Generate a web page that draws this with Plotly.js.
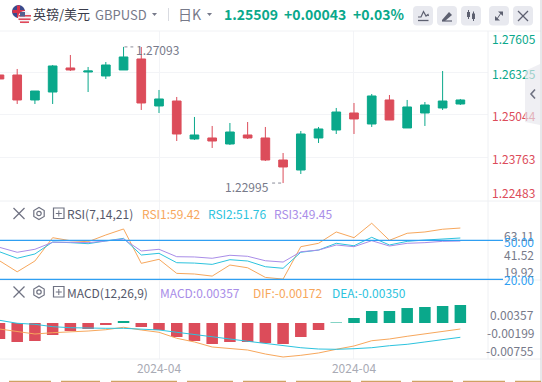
<!DOCTYPE html>
<html>
<head>
<meta charset="utf-8">
<script src="https://cdn.plot.ly/plotly-3.0.1.min.js"></script>
<style>html,body{margin:0;padding:0;background:#fff;overflow:hidden}#c{width:542px;height:382px}</style>
</head>
<body>
<div id="c"></div>
<script>
const index = [0,1,2,3,4,5,6,7,8,9,10,11,12,13,14,15,16,17,18,19,20,21,22,23,24,25,26];
const open_ = [1.26248,1.26248,1.25496,1.25736,1.26459,1.26338,1.26218,1.26399,1.26730,1.25315,1.25465,1.24322,1.24352,1.24171,1.24442,1.24352,1.23689,1.23388,1.24352,1.24592,1.25104,1.24773,1.25496,1.24653,1.25104,1.25255,1.25375];
const close_ = [1.26128,1.25496,1.25766,1.26519,1.26399,1.26368,1.26549,1.26790,1.25405,1.25526,1.24472,1.24442,1.24261,1.24532,1.24352,1.23689,1.23479,1.24472,1.24623,1.25134,1.24924,1.25616,1.24893,1.25285,1.25345,1.25465,1.25496];
const high_ = [1.26248,1.26429,1.25766,1.26549,1.26850,1.26489,1.26639,1.27093,1.27091,1.25797,1.25586,1.24984,1.24713,1.24803,1.24833,1.24683,1.23900,1.24562,1.24683,1.25255,1.25405,1.25676,1.25646,1.25496,1.25435,1.26368,1.25526];
const low_ = [1.26128,1.25375,1.25375,1.25375,1.26368,1.25736,1.26128,1.26399,1.25195,1.25104,1.24261,1.24291,1.24051,1.24141,1.24322,1.23659,1.22995,1.23268,1.24201,1.24472,1.24472,1.24683,1.24893,1.24653,1.24713,1.25195,1.25345];

const rsi1 = [34.3,25.8,34.1,52.0,49.7,48.9,54.1,58.7,32.3,35.4,24.6,24.1,22.5,31.0,28.9,21.5,20.2,45.1,47.7,56.4,52.0,63.1,50.0,55.4,56.4,58.5,59.42];
const rsi2 = [41.2,36.2,39.5,48.7,48.2,47.4,49.5,51.5,38.7,40.0,32.8,32.5,31.5,35.1,34.1,29.7,28.5,40.8,42.5,47.7,45.8,52.3,46.4,49.2,50.2,51.2,51.76];
const rsi3 = [44.6,40.8,43.1,48.5,48.5,48.2,49.5,51.0,41.8,43.1,37.4,37.2,36.2,38.5,37.7,34.3,33.3,41.2,42.5,46.4,45.1,49.7,45.6,47.7,48.2,49.2,49.45];
const rsiLevels = [50, 20];

const macdHist = [-0.00317,-0.00377,-0.00357,-0.00238,-0.00159,-0.00119,-0.00040,0.00040,-0.00079,-0.00139,-0.00278,-0.00357,-0.00416,-0.00377,-0.00377,-0.00397,-0.00416,-0.00278,-0.00139,0.00010,0.00099,0.00238,0.00238,0.00297,0.00317,0.00337,0.00357];
const dif = [-0.00172,-0.00230,-0.00279,-0.00251,-0.00236,-0.00215,-0.00187,-0.00135,-0.00193,-0.00242,-0.00371,-0.00450,-0.00558,-0.00594,-0.00622,-0.00708,-0.00772,-0.00736,-0.00686,-0.00607,-0.00536,-0.00423,-0.00386,-0.00328,-0.00279,-0.00221,-0.00172];
const dea = [0.00015,-0.00049,-0.00071,-0.00122,-0.00144,-0.00157,-0.00157,-0.00157,-0.00172,-0.00193,-0.00242,-0.00285,-0.00337,-0.00386,-0.00435,-0.00478,-0.00536,-0.00573,-0.00601,-0.00607,-0.00594,-0.00573,-0.00530,-0.00500,-0.00450,-0.00401,-0.00350];

const timeTicks = [9, 20];
const timeLabels = ['2024-04', '2024-04'];
const priceTicks = [1.26325, 1.25044, 1.23763];
const priceLabels = ['1.26325', '1.25044', '1.23763'];

const W = 542, H = 382;
const UP = '#0aa88b', DOWN = '#dc4c5a', ORANGE = '#f7a75c', CYAN = '#2cc3de', PURPLE = '#a98de8', BLUE = '#2f9ff2', GREY = '#777a8a', GRID = '#f3f4f7';
const FONT = '"Noto Sans CJK SC","Noto Sans",sans-serif';
const px = x => x / W, py = y => 1 - y / H;

const XR = [0.03, 27.56];
const baseX = {range: XR, showline: false, zeroline: false, showgrid: true, gridcolor: GRID, gridwidth: 1, tickmode: 'array', tickvals: timeTicks, ticktext: ['', ''], ticks: '', fixedrange: true, rangeslider: {visible: false}};

const traces = [
  {type: 'candlestick', x: index, open: open_, high: high_, low: low_, close: close_, xaxis: 'x', yaxis: 'y', whiskerwidth: 0,
   increasing: {line: {color: UP, width: 1}, fillcolor: UP}, decreasing: {line: {color: DOWN, width: 1}, fillcolor: DOWN}, hoverinfo: 'skip'},
  {type: 'scatter', mode: 'lines', x: index, y: rsi1, xaxis: 'x2', yaxis: 'y2', line: {color: ORANGE, width: 1}},
  {type: 'scatter', mode: 'lines', x: index, y: rsi2, xaxis: 'x2', yaxis: 'y2', line: {color: CYAN, width: 1}},
  {type: 'scatter', mode: 'lines', x: index, y: rsi3, xaxis: 'x2', yaxis: 'y2', line: {color: PURPLE, width: 1}},
  {type: 'bar', x: index, y: macdHist, xaxis: 'x3', yaxis: 'y3', marker: {color: macdHist.map(v => v >= 0 ? UP : DOWN), line: {width: 0}}},
  {type: 'scatter', mode: 'lines', x: index, y: dif, xaxis: 'x3', yaxis: 'y4', line: {color: ORANGE, width: 1}},
  {type: 'scatter', mode: 'lines', x: index, y: dea, xaxis: 'x3', yaxis: 'y4', line: {color: CYAN, width: 1}}
];

function txt(x, y, text, color, size, opts) {
  return Object.assign({xref: 'paper', yref: 'paper', x: px(x), y: py(y), text, showarrow: false, xanchor: 'left', yanchor: 'middle',
    font: {family: FONT, size: size || 12, color: color || GREY}, borderpad: 0, borderwidth: 0}, opts || {});
}
const b = t => '<b>' + t + '</b>';
const annotations = [
  txt(33, 14, '英镑/美元', '#3a3c4a', 13),
  txt(95, 15, 'GBPUSD', GREY, 13),
  txt(178, 14, '日K', GREY, 14),
  txt(224, 14, b('1.25509'), UP, 14),
  txt(284, 14, b('+0.00043'), UP, 14),
  txt(353, 14, b('+0.03%'), UP, 14),
  txt(491.5, 38.5, '1.27605', UP, 12),
  txt(491.5, 192.5, '1.22483', DOWN, 12),
  {xref: 'x', yref: 'y', x: 7.6, y: 1.27093, yshift: -3, text: '1.27093', showarrow: false, xanchor: 'left', yanchor: 'middle', font: {family: FONT, size: 12, color: GREY}},
  {xref: 'x', yref: 'y', x: 15.32, y: 1.22995, yshift: -3, text: '1.22995', showarrow: false, xanchor: 'right', yanchor: 'middle', font: {family: FONT, size: 12, color: GREY}},
  txt(67, 213.5, 'RSI(7,14,21)', '#55586a', 12),
  txt(142, 213.5, 'RSI1:59.42', ORANGE, 12),
  txt(208, 213.5, 'RSI2:51.76', CYAN, 12),
  txt(274, 213.5, 'RSI3:49.45', PURPLE, 12),
  txt(534, 235, '63.11', GREY, 12, {xanchor: 'right'}),
  txt(534, 241.5, '50.00', BLUE, 12, {xanchor: 'right'}),
  txt(534, 255, '41.52', GREY, 12, {xanchor: 'right'}),
  txt(534, 271.5, '19.92', GREY, 12, {xanchor: 'right'}),
  txt(534, 279, '20.00', BLUE, 12, {xanchor: 'right'}),
  txt(67, 292, 'MACD(12,26,9)', '#55586a', 12),
  txt(160, 292, 'MACD:0.00357', PURPLE, 12),
  txt(253, 292, 'DIF:-0.00172', ORANGE, 12),
  txt(332, 292, 'DEA:-0.00350', CYAN, 12),
  txt(534, 314.5, '0.00357', GREY, 12, {xanchor: 'right'}),
  txt(534, 332.5, '-0.00199', GREY, 12, {xanchor: 'right'}),
  txt(534, 350.5, '-0.00755', GREY, 12, {xanchor: 'right'})
];

function pline(x0, y0, x1, y1, color, w, extra) {
  return Object.assign({type: 'line', xref: 'paper', yref: 'paper', x0: px(x0), y0: py(y0), x1: px(x1), y1: py(y1), line: {color, width: w || 1}}, extra || {});
}
function ppath(points, color, w, fill) {
  const d = points.map(p => (p === 'Z' ? 'Z' : (p[0] + ' ' + px(p[1]) + ',' + py(p[2])))).join(' ');
  return {type: 'path', xref: 'paper', yref: 'paper', path: d, line: {color: color || 'rgba(0,0,0,0)', width: w === undefined ? 1 : w}, fillcolor: fill || 'rgba(0,0,0,0)'};
}
function polyline(arr, color, w, fill, close) {
  const p = arr.map((a, i) => [i ? 'L' : 'M', a[0], a[1]]);
  if (close) p.push('Z');
  return ppath(p, color, w, fill);
}
function rect(x0, y0, x1, y1, fill, lineColor, w) {
  return {type: 'rect', xref: 'paper', yref: 'paper', x0: px(x0), y0: py(y0), x1: px(x1), y1: py(y1), fillcolor: fill || 'rgba(0,0,0,0)', line: {color: lineColor || 'rgba(0,0,0,0)', width: w === undefined ? 0 : w}};
}
function rrect(x0, y0, x1, y1, r, fill) {
  const d = `M ${px(x0+r)},${py(y0)} L ${px(x1-r)},${py(y0)} Q ${px(x1)},${py(y0)} ${px(x1)},${py(y0+r)} L ${px(x1)},${py(y1-r)} Q ${px(x1)},${py(y1)} ${px(x1-r)},${py(y1)} L ${px(x0+r)},${py(y1)} Q ${px(x0)},${py(y1)} ${px(x0)},${py(y1-r)} L ${px(x0)},${py(y0+r)} Q ${px(x0)},${py(y0)} ${px(x0+r)},${py(y0)} Z`;
  return {type: 'path', xref: 'paper', yref: 'paper', path: d, fillcolor: fill, line: {width: 0, color: 'rgba(0,0,0,0)'}};
}
function circle(cx, cy, r, fill) {
  return {type: 'circle', xref: 'paper', yref: 'paper', x0: px(cx-r), y0: py(cy-r), x1: px(cx+r), y1: py(cy+r), fillcolor: fill, line: {width: 0, color: 'rgba(0,0,0,0)'}};
}
function paneIcons(cy) {
  const c = '#6f7282';
  const hex = [];
  for (let i = 0; i < 6; i++) { const a = i*Math.PI/3; hex.push([39 + 6*Math.sin(a), cy + 6*Math.cos(a)]); }
  return [
    pline(13.5, cy-5.5, 24.5, cy+5.5, c, 1.2), pline(24.5, cy-5.5, 13.5, cy+5.5, c, 1.2),
    polyline(hex, c, 1.2, null, true),
    {type: 'circle', xref: 'paper', yref: 'paper', x0: px(36.8), y0: py(cy-2.2), x1: px(41.2), y1: py(cy+2.2), line: {color: c, width: 1.2}},
    rect(53.5, cy-5.5, 64, cy+5, null, c, 1.2),
    pline(55.8, cy, 61.8, cy, c, 1), pline(58.8, cy-3, 58.8, cy+3, c, 1)
  ];
}
const tan = [[9,51],[61,100],[111,177],[187,233],[243,286],[296,351],[361,401],[412,453],[463,505],[515,541]];
const ic = '#5d6070';
const shapes = [
  pline(0, 31, 541, 31, '#f1f2f5'), pline(0, 201, 541, 201, '#eef0f3'), pline(0, 280, 541, 280, '#eef0f3'), pline(0, 359, 541, 359, '#eef0f3'),
  pline(488, 31, 488, 359, '#eef0f3'),
  pline(541, 0, 541, 382, '#cfd1d6'),
  ...rsiLevels.map(v => ({type: 'line', xref: 'paper', yref: 'y2', x0: 0, x1: px(503), y0: v, y1: v, line: {color: BLUE, width: 1.2}})),
  {type: 'line', xref: 'x', yref: 'y', x0: 7.05, x1: 7.55, y0: 1.27093, y1: 1.27093, line: {color: '#8b8d9a', width: 1, dash: 'dot'}},
  {type: 'line', xref: 'x', yref: 'y', x0: 15.38, x1: 16, y0: 1.22995, y1: 1.22995, line: {color: '#8b8d9a', width: 1, dash: 'dot'}},
  circle(18.5, 11.5, 6.5, '#3b4a8c'), rect(12.5, 10, 25, 13, '#d8334a'), rect(17, 5.5, 20, 18, '#d8334a'),
  circle(24.5, 17.5, 6.5, '#f4f4f6'), rect(18.5, 15, 31, 16.6, '#e0485a'), rect(18.5, 18.4, 30.6, 20, '#e0485a'), rect(20, 21.4, 29, 23, '#e0485a'),
  rect(20, 12, 25, 16.5, '#55608f'),
  polyline([[152,13],[157,13],[154.5,16]], GREY, 0, GREY, true),
  polyline([[207,13],[212,13],[209.5,16]], GREY, 0, GREY, true),
  pline(168.5, 8, 168.5, 21, '#d9dbe1'),
  rrect(413, 6, 433, 25.5, 4, '#e8e9ef'), rrect(437, 6, 457, 25.5, 4, '#e8e9ef'), rrect(461, 6, 481, 25.5, 4, '#e8e9ef'), rrect(489, 6, 509, 25.5, 4, '#e8e9ef'), rrect(513, 6, 533, 25.5, 4, '#e8e9ef'),
  polyline([[418,17],[421,17],[423.5,11.5],[426,16],[428,14.5],[428.5,16]], ic, 1.2),
  pline(418, 20.5, 428.5, 20.5, ic, 1.3),
  polyline([[442,20],[449,12],[452,15],[445,21],[442,21]], ic, 0, ic, true),
  pline(442, 21, 452, 21, ic, 1.2),
  rect(467, 12, 470, 17, ic), pline(468.5, 10, 468.5, 19, ic), rect(472, 13.5, 475, 19, ic), pline(473.5, 11.5, 473.5, 21, ic),
  polyline([[498,11.5],[503,11.5],[503,16]], ic, 0, ic, true), polyline([[495,20.5],[495,16],[500,20.5]], ic, 0, ic, true), pline(497,19,501,13, ic, 1),
  pline(518, 11, 528, 21, ic, 1.2), pline(528, 11, 518, 21, ic, 1.2),
  polyline([[525,71],[540,64],[540,125],[525,122]], 'rgba(0,0,0,0)', 0, 'rgba(230,231,236,0.65)', true),
  polyline([[535,89.5],[531,94],[535,98.5]], '#6f7282', 1.6),
  ...paneIcons(213.5), ...paneIcons(292),
  ...tan.map(s => pline(s[0], 381.5, s[1], 381.5, '#cfa263', 1.5))
];

const layout = {
  width: W, height: H, margin: {l: 0, r: 0, t: 0, b: 0}, paper_bgcolor: '#fff', plot_bgcolor: '#fff', showlegend: false, hovermode: false,
  boxgap: 0.3, bargap: 0.35, font: {family: FONT, color: GREY, size: 12},
  xaxis: Object.assign({}, baseX, {domain: [0, 488/W], anchor: 'y'}),
  xaxis2: Object.assign({}, baseX, {domain: [0, 488/W], anchor: 'y2'}),
  xaxis3: Object.assign({}, baseX, {domain: [0, 488/W], anchor: 'y3', ticktext: timeLabels, tickfont: {family: FONT, size: 12, color: '#a9abb5'}, ticklabelstandoff: 1}),
  yaxis: {domain: [py(201), py(31)], range: [1.22455, 1.27572], side: 'right', anchor: 'x', tickmode: 'array', tickvals: priceTicks,
    ticktext: priceLabels.map((t, i) => `<span style="color:${i === 0 ? UP : DOWN}">${t}</span>`), tickfont: {family: FONT, size: 12}, ticklabelstandoff: 3, ticklabelshift: 2, ticks: '',
    showgrid: true, gridcolor: GRID, zeroline: false, showline: false, fixedrange: true},
  yaxis2: {domain: [py(280), py(201)], range: [19.5, 80.2], anchor: 'x2', showgrid: false, zeroline: false, showline: false, showticklabels: false, ticks: '', fixedrange: true},
  yaxis3: {domain: [py(359), py(280)], range: [-0.00714, 0.00853], anchor: 'x3', showgrid: false, zeroline: false, showline: false, showticklabels: false, ticks: '', fixedrange: true},
  yaxis4: {domain: [py(359), py(280)], range: [-0.00815, 0.00879], overlaying: 'y3', anchor: 'x3', showgrid: false, zeroline: false, showline: false, showticklabels: false, ticks: '', fixedrange: true},
  annotations, shapes
};
Plotly.newPlot('c', traces, layout, {displayModeBar: false, staticPlot: true});
</script>
</body>
</html>
